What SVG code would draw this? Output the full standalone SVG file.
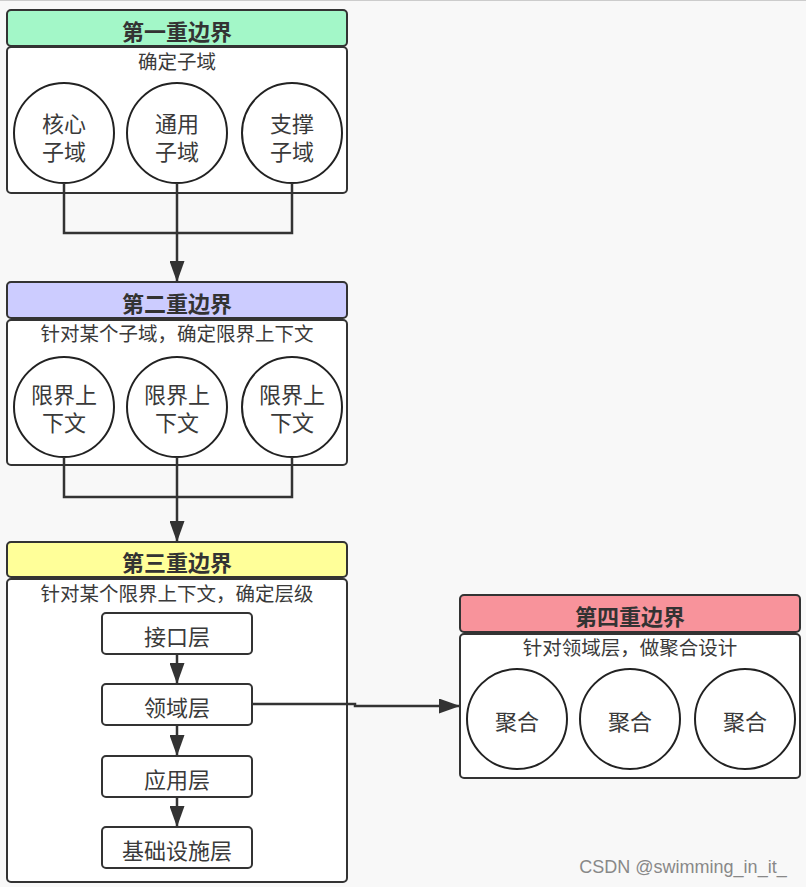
<svg xmlns="http://www.w3.org/2000/svg" width="806" height="887" viewBox="0 0 806 887">
<style>
text{font-family:"Noto Sans CJK SC","Liberation Sans",sans-serif;fill:#333;text-anchor:middle}
.h{font-size:22px;font-weight:bold}
.s{font-size:19.5px;fill:#3a3a3a}
.c{font-size:22px;fill:#3a3a3a}
.box{fill:#fff;stroke:#333;stroke-width:2}
.circ{fill:#fff;stroke:#222;stroke-width:2}
.ln{fill:none;stroke:#333;stroke-width:2.5}
</style>
<defs>
<marker id="ah" markerWidth="21" markerHeight="15" refX="21" refY="7.5" orient="auto" markerUnits="userSpaceOnUse" viewBox="0 0 21 15">
<path d="M0,0 L21,7.5 L0,15 z" fill="#333"/>
</marker>
</defs>
<rect width="806" height="887" fill="#f8f8f8"/>
<line x1="0" y1="0.5" x2="806" y2="0.5" stroke="#ccc"/>

<g id="b1">
<rect class="box" x="7" y="10" width="340" height="36" rx="4" style="fill:#a3f7c8"/>
<rect class="box" x="7" y="47" width="340" height="146" rx="4"/>
<text class="h" x="177" y="40">第一重边界</text>
<text class="s" x="177" y="69">确定子域</text>
</g>
<g id="b1c1"><circle class="circ" cx="64" cy="133" r="50"/><text class="c" x="64" y="132">核心</text><text class="c" x="64" y="160">子域</text></g>
<g id="b1c2"><circle class="circ" cx="177" cy="133" r="50"/><text class="c" x="177" y="132">通用</text><text class="c" x="177" y="160">子域</text></g>
<g id="b1c3"><circle class="circ" cx="292" cy="133" r="50"/><text class="c" x="292" y="132">支撑</text><text class="c" x="292" y="160">子域</text></g>

<g id="b2">
<rect class="box" x="7" y="282" width="340" height="36" rx="4" style="fill:#ccccff"/>
<rect class="box" x="7" y="320" width="340" height="145" rx="4"/>
<text class="h" x="177" y="312">第二重边界</text>
<text class="s" x="177" y="341">针对某个子域，确定限界上下文</text>
</g>
<g id="b2c1"><circle class="circ" cx="64" cy="407" r="50"/><text class="c" x="64" y="403">限界上</text><text class="c" x="64" y="431">下文</text></g>
<g id="b2c2"><circle class="circ" cx="177" cy="407" r="50"/><text class="c" x="177" y="403">限界上</text><text class="c" x="177" y="431">下文</text></g>
<g id="b2c3"><circle class="circ" cx="292" cy="407" r="50"/><text class="c" x="292" y="403">限界上</text><text class="c" x="292" y="431">下文</text></g>

<g id="b3">
<rect class="box" x="7" y="542" width="340" height="35" rx="4" style="fill:#ffff99"/>
<rect class="box" x="7" y="579" width="340" height="303" rx="4"/>
<text class="h" x="177" y="571">第三重边界</text>
<text class="s" x="177" y="601">针对某个限界上下文，确定层级</text>
</g>
<g id="l1"><rect class="box" x="102" y="613" width="150" height="41" rx="4"/><text class="c" x="177" y="645">接口层</text></g>
<g id="l2"><rect class="box" x="102" y="684" width="150" height="41" rx="4"/><text class="c" x="177" y="716">领域层</text></g>
<g id="l3"><rect class="box" x="102" y="756" width="150" height="41" rx="4"/><text class="c" x="177" y="788">应用层</text></g>
<g id="l4"><rect class="box" x="102" y="827" width="150" height="41" rx="4"/><text class="c" x="177" y="859">基础设施层</text></g>

<g id="b4">
<rect class="box" x="460" y="595" width="340" height="37" rx="4" style="fill:#f8939b"/>
<rect class="box" x="460" y="634" width="340" height="144" rx="4"/>
<text class="h" x="630" y="625">第四重边界</text>
<text class="s" x="630" y="655">针对领域层，做聚合设计</text>
</g>
<g id="b4c1"><circle class="circ" cx="517" cy="719" r="50"/><text class="c" x="517" y="730">聚合</text></g>
<g id="b4c2"><circle class="circ" cx="630" cy="719" r="50"/><text class="c" x="630" y="730">聚合</text></g>
<g id="b4c3"><circle class="circ" cx="745" cy="719" r="50"/><text class="c" x="745" y="730">聚合</text></g>

<g id="connectors">
<path class="ln" d="M64,183 V233 H292 V183"/>
<path class="ln" d="M177,183 V282" marker-end="url(#ah)"/>
<path class="ln" d="M64,457 V497 H292 V457"/>
<path class="ln" d="M177,457 V542" marker-end="url(#ah)"/>
<path class="ln" d="M177,654 V684" marker-end="url(#ah)"/>
<path class="ln" d="M177,725 V756" marker-end="url(#ah)"/>
<path class="ln" d="M177,797 V827" marker-end="url(#ah)"/>
<path class="ln" d="M252,704 H355 V706 H460" marker-end="url(#ah)"/>
</g>

<text x="683" y="873" style="font-family:'Liberation Sans',sans-serif;font-size:18px;fill:#888">CSDN @swimming_in_it_</text>
</svg>
